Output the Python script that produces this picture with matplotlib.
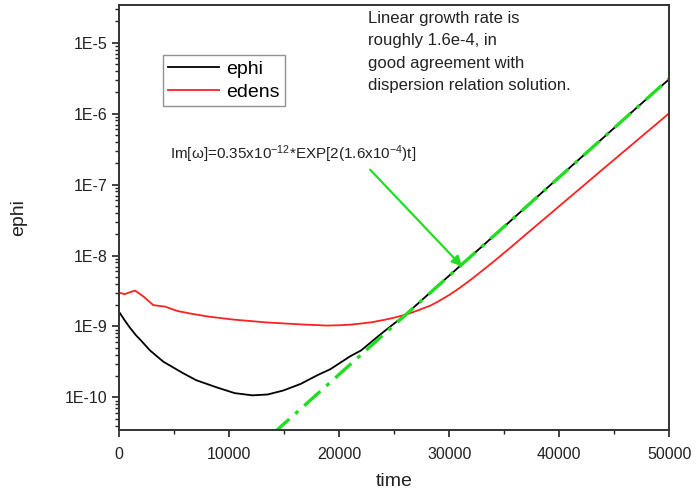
import numpy as np
import matplotlib
matplotlib.use("Agg")
import matplotlib.pyplot as plt
from matplotlib.ticker import FixedLocator, FuncFormatter, LogLocator, MultipleLocator

plt.rcParams["font.family"] = ["Liberation Sans", "DejaVu Sans"]
plt.rcParams["mathtext.fontset"] = "custom"
plt.rcParams["mathtext.rm"] = "Liberation Sans"
plt.rcParams["mathtext.it"] = "Liberation Sans:italic"

# ephi (black)
ephi_t = [0, 500, 1000, 1500, 2000, 2800, 4000, 5800, 7000, 8900, 10500,
          12100, 13500, 14900, 16500, 18000, 19200, 21000, 22000, 23000,
          24000, 25000, 26000, 28000, 30000, 32000, 35000, 38000, 41000,
          44000, 47000, 50000]
ephi_v = [1.6e-9, 1.22e-9, 9.5e-10, 7.6e-10, 6.3e-10, 4.6e-10, 3.2e-10,
          2.2e-10, 1.75e-10, 1.38e-10, 1.15e-10, 1.07e-10, 1.1e-10, 1.25e-10,
          1.55e-10, 2.05e-10, 2.5e-10, 3.8e-10, 4.6e-10, 6.2e-10, 8.3e-10,
          1.1e-9, 1.45e-9, 2.75e-9, 5.2e-9, 9.8e-9, 2.55e-8, 6.7e-8,
          1.75e-7, 4.55e-7, 1.19e-6, 3.05e-6]

# edens (red)
edens_t = [0, 500, 1000, 1450, 2200, 3100, 4200, 5300, 6700, 8100, 10400,
           13400, 16500, 18900, 20000, 21000, 22000, 23000, 24000, 25000,
           26000, 27000, 28300, 29000, 30000, 31000, 32000, 33000, 34000,
           35000, 36000, 37000, 38000, 40000, 42000, 44000, 46000, 48000,
           50000]
edens_v = [3.0e-9, 2.85e-9, 3.05e-9, 3.2e-9, 2.65e-9, 2.0e-9, 1.9e-9,
           1.65e-9, 1.5e-9, 1.38e-9, 1.25e-9, 1.14e-9, 1.07e-9, 1.03e-9,
           1.04e-9, 1.06e-9, 1.1e-9, 1.15e-9, 1.23e-9, 1.33e-9, 1.46e-9,
           1.65e-9, 1.97e-9, 2.25e-9, 2.77e-9, 3.53e-9, 4.6e-9, 6.1e-9,
           8.1e-9, 1.09e-8, 1.47e-8, 2.0e-8, 2.7e-8, 4.95e-8, 9.05e-8,
           1.66e-7, 3.03e-7, 5.53e-7, 1.01e-6]

# fitted exponential, end points
fit_t = [14000, 50000]
fit_v = [3.1e-11, 3.1e-6]

ytick_vals = [1e-10, 1e-9, 1e-8, 1e-7, 1e-6, 1e-5]

fig = plt.figure(figsize=(6.97, 4.94), dpi=100)
ax = fig.add_axes([0.171, 0.130, 0.789, 0.860])

ax.plot(ephi_t, ephi_v, color="black", lw=1.3, label="ephi")
ax.plot(edens_t, edens_v, color="#ff2020", lw=1.3, label="edens")
ax.plot(fit_t, fit_v, color="#22dd22", lw=2.4,
        linestyle=(0, (6.5, 2.4, 1.2, 2.4)))

ax.set_yscale("log")
ax.set_xlim(0, 50000)
ax.set_ylim(3.5e-11, 3.4e-5)

ax.xaxis.set_major_locator(MultipleLocator(10000))
ax.xaxis.set_minor_locator(MultipleLocator(5000))
ax.yaxis.set_major_locator(FixedLocator(ytick_vals))
ax.yaxis.set_major_formatter(FuncFormatter(lambda v, p: "1E%d" % round(np.log10(v))))
ax.yaxis.set_minor_locator(LogLocator(base=10, subs=np.arange(2, 10)))

ax.tick_params(which="major", direction="out", length=5, width=1.2,
               labelsize=11.5, colors="#222222")
ax.tick_params(which="minor", direction="out", length=3, width=1.0,
               colors="#222222")
ax.tick_params(axis="x", which="major", pad=7.5)
ax.tick_params(top=False, right=False)
for s in ax.spines.values():
    s.set_color("#333333")
    s.set_linewidth(1.4)

ax.set_xlabel("time", fontsize=14, color="#222222", labelpad=8)
ax.set_ylabel("ephi", fontsize=14, color="#222222", labelpad=27)

leg = ax.legend(loc="upper left", bbox_to_anchor=(0.08, 0.882), fontsize=14,
                frameon=True, fancybox=False, handlelength=2.6,
                handletextpad=0.4, borderpad=0.25, labelspacing=0.3,
                borderaxespad=0)
leg.get_frame().set_edgecolor("#777777")
leg.get_frame().set_linewidth(1.0)

ax.text(0.453, 0.986, "Linear growth rate is\nroughly 1.6e-4, in\n"
        "good agreement with\ndispersion relation solution.",
        transform=ax.transAxes, ha="left", va="top", fontsize=12,
        linespacing=1.62, color="#222222")

ax.annotate("", xy=(31180, 7.0e-9), xytext=(22820, 1.62e-7),
            arrowprops=dict(arrowstyle="-|>", color="#22dd22", lw=1.6,
                            mutation_scale=15, shrinkA=0, shrinkB=0))
ax.text(4600, 2.65e-7, "Im[ω]=0.35x10$^{-12}$*EXP[2(1.6x10$^{-4}$)t]",
        ha="left", va="center", fontsize=11, color="#222222")

fig.savefig("out.png", dpi=100)
